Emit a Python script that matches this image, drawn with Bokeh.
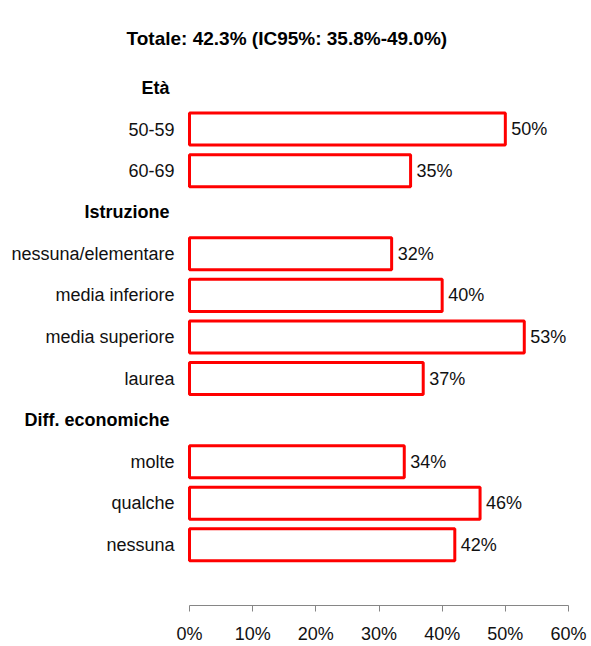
from bokeh.plotting import figure
from bokeh.models import Range1d, FixedTicker, PrintfTickFormatter, ColumnDataSource, LabelSet
from bokeh.core.properties import value
from bokeh.embed import file_html
from bokeh.resources import INLINE

title_text = "Totale: 42.3% (IC95%: 35.8%-49.0%)"
headers = ["Età", "Istruzione", "Diff. economiche"]
groups = [
    ["50-59", "60-69"],
    ["nessuna/elementare", "media inferiore", "media superiore", "laurea"],
    ["molte", "qualche", "nessuna"],
]
values = [
    [50, 35],
    [32, 40, 53, 37],
    [34, 46, 42],
]
x_ticks = [0, 10, 20, 30, 40, 50, 60]

# build row positions (top to bottom)
hdr_y, hdr_t = [], []
cat_y, cat_t, cat_v = [], [], []
pos = 0
for h, cats, vals in zip(headers, groups, values):
    hdr_y.append(pos); hdr_t.append(h); pos += 1
    for c, v in zip(cats, vals):
        cat_y.append(pos); cat_t.append(c); cat_v.append(v); pos += 1

FONT = "Liberation Sans"

# frame spans the whole left side so that the row labels are not clipped;
# the axis itself is limited to 0..60 with bounds
x_max = x_ticks[-1]
left_room = x_max * 189 / 379

p = figure(width=591, height=646, output_backend="svg", toolbar_location=None,
           x_range=Range1d(-left_room, x_max), y_range=Range1d(pos + 0.46, -0.65),
           min_border_left=0, min_border_right=23, min_border_top=60, min_border_bottom=39)
p.title.text = title_text
p.title.text_font = FONT
p.title.text_font_size = "19px"
p.title.text_font_style = "bold"
p.title.text_color = "#000000"
p.title.align = "left"
p.title.offset = 126
p.title.standoff = 23
p.outline_line_color = None
p.xgrid.visible = False
p.ygrid.visible = False
p.yaxis.visible = False

src = ColumnDataSource(dict(y=cat_y, t=cat_t, v=cat_v, lbl=[f"{v}%" for v in cat_v], zero=[0]*len(cat_v)))
hsrc = ColumnDataSource(dict(y=hdr_y, t=hdr_t, zero=[0]*len(hdr_y)))

p.hbar(y="y", left=0, right="v", height=0.77, source=src,
       fill_color="white", line_color="#FF0000", line_width=3)

p.add_layout(LabelSet(x="zero", y="y", text="t", source=src, x_offset=-15,
                      text_align="right", text_baseline="middle",
                      text_font=value(FONT), text_font_size=value("18px"), text_color="#111111"))
p.add_layout(LabelSet(x="zero", y="y", text="t", source=hsrc, x_offset=-20,
                      text_align="right", text_baseline="middle",
                      text_font=value(FONT), text_font_size=value("18px"), text_font_style="bold",
                      text_color="#000000"))
p.add_layout(LabelSet(x="v", y="y", text="lbl", source=src, x_offset=6,
                      text_align="left", text_baseline="middle",
                      text_font=value(FONT), text_font_size=value("18px"), text_color="#111111"))

xa = p.xaxis[0]
xa.bounds = (0, x_max)
xa.ticker = FixedTicker(ticks=x_ticks)
xa.formatter = PrintfTickFormatter(format="%d%%")
xa.axis_line_color = "#868686"
xa.major_tick_line_color = "#868686"
xa.major_tick_in = 0
xa.major_tick_out = 6
xa.minor_tick_line_color = None
xa.major_label_standoff = 12
xa.major_label_text_font = FONT
xa.major_label_text_font_size = "18px"
xa.major_label_text_color = "#111111"

open("out.html", "w").write(file_html(p, INLINE))
